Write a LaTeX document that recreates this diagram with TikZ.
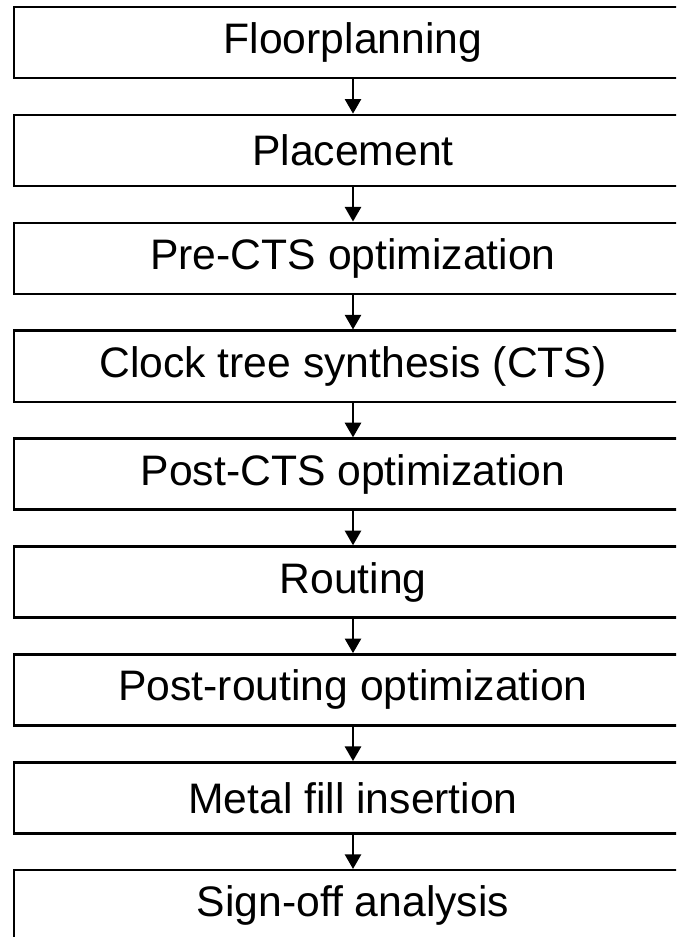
\documentclass[tikz,border=0pt]{standalone}
\usepackage{fontspec}
\setmainfont{Liberation Sans}
\usetikzlibrary{arrows.meta}

\begin{document}
\begin{tikzpicture}[x=0.75pt,y=-0.75pt]
					\tikzstyle{stage}=[rectangle,draw=black,line width=1.8pt,minimum width=508.5pt,minimum height=53.25pt,inner sep=0pt,font=\fontsize{32}{38}\selectfont]
					\tikzstyle{flow}=[line width=2pt,-{Triangle[width=12pt,length=11pt]}]
					\clip (0,0) rectangle (676,937);
					\fill[white] (0,0) rectangle (676,937);
					\node[stage] (1) at (353,42.5) {Floorplanning};
					\node[stage] (2) at (353,150.4) {Placement};
					\node[stage] (3) at (353,258.3) {Pre-CTS optimization};
					\node[stage] (4) at (353,366.2) {Clock tree synthesis (CTS)};
					\node[stage] (5) at (353,474.1) {Post-CTS optimization};
					\node[stage] (6) at (353,582) {Routing};
					\node[stage] (7) at (353,689.9) {Post-routing optimization};
					\node[stage] (8) at (353,797.8) {Metal fill insertion};
					\node[stage] (9) at (353,905.7) {Sign-off analysis};
					\draw[flow] (1) -- (2);
					\draw[flow] (2) -- (3);
					\draw[flow] (3) -- (4);
					\draw[flow] (4) -- (5);
					\draw[flow] (5) -- (6);
					\draw[flow] (6) -- (7);
					\draw[flow] (7) -- (8);
					\draw[flow] (8) -- (9);
					\end{tikzpicture}
\end{document}
